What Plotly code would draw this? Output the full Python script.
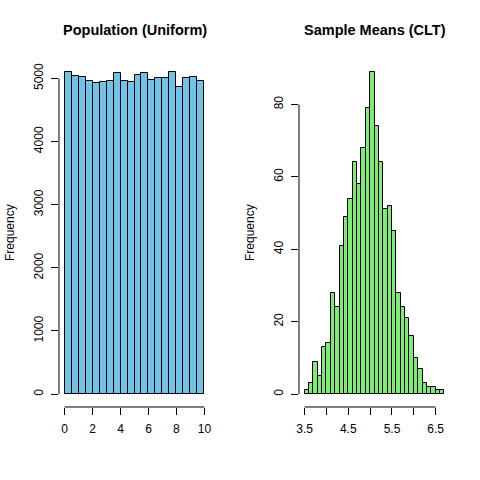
import plotly.graph_objects as go

# ---- data ----
# left panel: population drawn from Uniform(0, 10), bins of 0.5
pop_breaks = [i * 0.5 for i in range(21)]
pop_counts = [5104, 5037, 5026, 4963, 4921, 4947, 4958, 5079, 4963, 4937,
              5053, 5079, 4974, 5000, 5000, 5104, 4860, 5000, 5016, 4963]

# right panel: 1000 sample means, bins of 0.1 from 3.5 to 6.7
clt_breaks = [round(3.5 + i * 0.1, 1) for i in range(33)]
clt_counts = [1, 3, 9, 5, 13, 14, 28, 24, 41, 49, 54, 64, 58, 68, 79, 89,
              74, 64, 51, 52, 45, 28, 24, 21, 16, 10, 7, 3, 2, 2, 1, 1]

pop_xticks = [0, 2, 4, 6, 8, 10]
pop_yticks = [0, 1000, 2000, 3000, 4000, 5000]
clt_xticks = [3.5, 4.0, 4.5, 5.0, 5.5, 6.0, 6.5]
clt_xlabels = ["3.5", "", "4.5", "", "5.5", "", "6.5"]
clt_yticks = [0, 20, 40, 60, 80]

titles = ["Population (Uniform)", "Sample Means (CLT)"]
colors = ["#72C2E6", "#7DEB74"]

W = 480
FONT = "Liberation Sans, Arial, sans-serif"

# R default margins for a 1x2 layout (in pixels)
panel_w = W / 2
left_m, right_m, top_m, bottom_m = 59, 30, 59, 73
ydom = [bottom_m / W, 1 - top_m / W]


def padded(lo, hi):
    # R uses 4% padding on each side of the data range
    d = (hi - lo) * 0.04
    return [lo - d, hi + d]


fig = go.Figure()

panels = [
    (pop_breaks, pop_counts, pop_xticks, [str(t) for t in pop_xticks], pop_yticks),
    (clt_breaks, clt_counts, clt_xticks, clt_xlabels, clt_yticks),
]

shapes = []
annotations = []
for k, (brks, cnts, xt, xl, yt) in enumerate(panels):
    xa = "x" if k == 0 else "x2"
    ya = "y" if k == 0 else "y2"
    widths = [brks[i + 1] - brks[i] for i in range(len(cnts))]
    fig.add_trace(go.Bar(
        x=brks[:-1], y=cnts, width=widths, offset=0,
        marker=dict(color=colors[k], line=dict(color="black", width=1)),
        xaxis=xa, yaxis=ya, showlegend=False,
    ))

    x0 = (k * panel_w + left_m) / W
    x1 = ((k + 1) * panel_w - right_m) / W
    axis_common = dict(showgrid=False, zeroline=False, showline=False,
                       automargin=False,
                       ticks="outside", ticklen=7, tickwidth=1, tickcolor="black",
                       tickfont=dict(family=FONT, size=12, color="black"))
    fig.update_layout(**{
        ("xaxis" if k == 0 else "xaxis2"): dict(
            domain=[x0, x1], range=padded(brks[0], brks[-1]),
            tickvals=xt, ticktext=xl, anchor=ya, ticklabelstandoff=4,
            **axis_common),
        ("yaxis" if k == 0 else "yaxis2"): dict(
            domain=ydom, range=padded(0, max(cnts)),
            tickvals=yt, ticktext=[str(t) for t in yt], tickangle=-90,
            anchor=xa, ticklabelstandoff=3, **axis_common),
    })

    # R draws the axis line only between the first and last tick
    shapes.append(dict(type="line", xref=xa, yref=ya + " domain",
                       x0=xt[0], x1=xt[-1], y0=0, y1=0,
                       line=dict(color="black", width=1)))
    shapes.append(dict(type="line", xref=xa + " domain", yref=ya,
                       x0=0, x1=0, y0=yt[0], y1=yt[-1],
                       line=dict(color="black", width=1)))

    annotations.append(dict(text="<b>" + titles[k] + "</b>", xref="paper", yref="paper",
                            x=(x0 + x1) / 2, y=1 - 30 / W, showarrow=False,
                            xanchor="center", yanchor="middle",
                            font=dict(family=FONT, size=14.5, color="black")))
    annotations.append(dict(text="Frequency", xref="paper", yref="paper",
                            x=(k * panel_w + 10) / W, y=(ydom[0] + ydom[1]) / 2,
                            xanchor="center", yanchor="middle",
                            textangle=-90, showarrow=False,
                            font=dict(family=FONT, size=12, color="black")))

fig.update_layout(
    width=W, height=W,
    margin=dict(l=0, r=0, t=0, b=0),
    paper_bgcolor="white", plot_bgcolor="white",
    bargap=0, shapes=shapes, annotations=annotations,
)

# drop the default 8px page margin so the figure sits at the window corner
fig.write_html("out.html", config={"displayModeBar": False},
               post_script="document.body.style.margin='0';")
